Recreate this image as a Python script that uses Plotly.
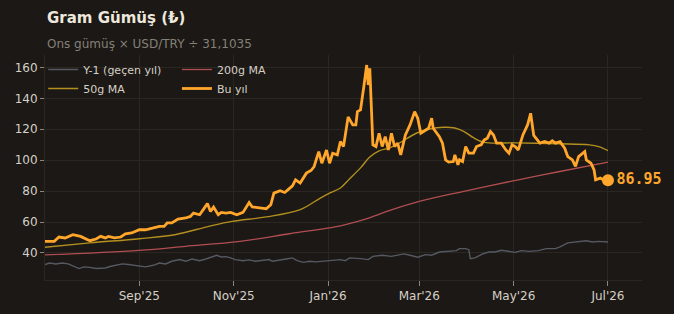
import plotly.graph_objects as go

# ---- Data ----
bu_yil_dates = [
    "2025-07-02", "2025-07-08", "2025-07-11", "2025-07-15", "2025-07-20", "2025-07-25", "2025-07-31",
    "2025-08-04", "2025-08-07", "2025-08-10", "2025-08-12", "2025-08-16", "2025-08-20", "2025-08-23",
    "2025-08-27", "2025-09-01", "2025-09-05", "2025-09-11", "2025-09-14", "2025-09-17", "2025-09-19",
    "2025-09-22", "2025-09-26", "2025-10-01", "2025-10-04", "2025-10-06", "2025-10-10", "2025-10-13",
    "2025-10-15", "2025-10-17", "2025-10-19", "2025-10-22", "2025-10-24", "2025-10-27", "2025-10-30",
    "2025-11-03", "2025-11-07", "2025-11-11", "2025-11-13", "2025-11-19", "2025-11-22", "2025-11-25",
    "2025-11-27", "2025-12-01", "2025-12-04", "2025-12-06", "2025-12-09", "2025-12-11", "2025-12-14",
    "2025-12-18", "2025-12-21", "2025-12-23", "2025-12-26", "2025-12-28", "2025-12-31", "2026-01-02",
    "2026-01-04", "2026-01-07", "2026-01-09", "2026-01-11", "2026-01-14", "2026-01-17", "2026-01-19",
    "2026-01-20", "2026-01-22", "2026-01-24", "2026-01-26", "2026-01-27", "2026-01-28", "2026-01-30",
    "2026-02-01", "2026-02-03", "2026-02-05", "2026-02-07", "2026-02-09", "2026-02-11", "2026-02-13",
    "2026-02-15", "2026-02-17", "2026-02-20", "2026-02-23", "2026-02-26", "2026-02-28", "2026-03-02",
    "2026-03-05", "2026-03-07", "2026-03-09", "2026-03-10", "2026-03-14", "2026-03-16", "2026-03-18",
    "2026-03-20", "2026-03-23", "2026-03-24", "2026-03-26", "2026-03-27", "2026-03-29", "2026-03-31",
    "2026-04-02", "2026-04-05", "2026-04-07", "2026-04-10", "2026-04-12", "2026-04-14", "2026-04-16",
    "2026-04-18", "2026-04-20", "2026-04-23", "2026-04-26", "2026-04-28", "2026-04-30", "2026-05-02",
    "2026-05-04", "2026-05-07", "2026-05-10", "2026-05-12", "2026-05-14", "2026-05-16", "2026-05-18",
    "2026-05-21", "2026-05-24", "2026-05-26", "2026-05-28", "2026-05-31", "2026-06-03", "2026-06-05",
    "2026-06-08", "2026-06-10", "2026-06-12", "2026-06-16", "2026-06-17", "2026-06-20", "2026-06-22",
    "2026-06-23", "2026-06-26", "2026-06-28", "2026-07-01",
]
bu_yil_values = [
    47.5, 47.5, 50.3, 49.7, 51.8, 50.7, 47.9,
    49.0, 50.7, 49.7, 50.7, 49.7, 50.3, 52.3,
    52.9, 55.0, 55.0, 56.5, 57.2, 57.2, 59.4,
    59.4, 61.9, 62.6, 63.6, 65.8, 64.7, 69.0,
    72.0, 66.8, 69.7, 64.7, 66.2, 65.8, 66.2,
    64.7, 66.2, 72.6, 69.7, 69.0, 68.6, 71.2,
    78.7, 80.2, 79.1, 80.8, 83.4, 87.3, 85.2,
    91.6, 93.3, 95.9, 105.5, 98.0, 106.6, 98.0,
    104.5, 103.4, 112.0, 108.8, 128.0, 122.8, 122.8,
    131.4, 132.5, 146.5, 161.5, 148.6, 159.4, 109.9,
    108.8, 117.4, 108.8, 115.2, 106.6, 117.4, 108.8,
    111.0, 103.4, 116.3, 122.8, 131.4, 127.1, 117.4,
    119.5, 120.6, 127.1, 120.6, 115.2, 111.0, 100.2,
    98.7, 99.1, 103.4, 97.0, 100.2, 99.1, 108.8,
    104.5, 104.5, 108.8, 109.9, 113.1, 114.2, 118.5,
    116.3, 111.0, 111.0, 106.6, 104.5, 109.9, 108.8,
    106.6, 116.3, 122.8, 130.3, 116.0, 113.1, 111.0,
    112.0, 111.0, 112.6, 111.0, 112.0, 107.7, 102.3,
    100.2, 96.0, 102.3, 105.5, 100.2, 98.0, 93.7,
    87.3, 88.4, 87.3, 86.95,
]

ma50_dates = [
    "2025-07-02", "2025-07-31", "2025-09-01", "2025-09-24", "2025-10-16", "2025-10-31", "2025-11-22",
    "2025-12-14", "2025-12-27", "2026-01-02", "2026-01-09", "2026-01-15", "2026-01-22", "2026-01-28",
    "2026-02-03", "2026-02-10", "2026-02-16", "2026-02-27", "2026-03-07", "2026-03-17", "2026-03-24",
    "2026-03-30", "2026-04-05", "2026-04-12", "2026-05-02", "2026-05-30", "2026-06-19", "2026-06-25",
    "2026-07-01",
]
ma50_values = [
    43.7, 46.5, 49.2, 51.8, 57.2, 60.4, 63.3,
    68.0, 75.5, 78.7, 82.0, 88.0, 95.0, 102.0,
    106.0, 108.0, 111.0, 117.4, 120.0, 121.3, 120.8,
    118.5, 114.5, 111.5, 111.2, 110.6, 109.9, 108.8,
    106.2,
]

ma200_dates = [
    "2025-07-02", "2025-09-01", "2025-10-01", "2025-11-05", "2025-12-07", "2026-01-09", "2026-01-24",
    "2026-02-10", "2026-03-01", "2026-03-29", "2026-05-04", "2026-05-30", "2026-07-01",
]
ma200_values = [
    38.7, 41.7, 44.3, 47.5, 52.4, 57.5, 61.5,
    67.5, 73.3, 79.7, 87.3, 92.5, 98.7,
]

y1_dates = [
    "2025-07-02", "2025-07-05", "2025-07-09", "2025-07-13", "2025-07-17", "2025-07-20", "2025-07-24",
    "2025-07-27", "2025-07-31", "2025-08-04", "2025-08-07", "2025-08-10", "2025-08-13", "2025-08-16",
    "2025-08-21", "2025-08-25", "2025-08-30", "2025-09-02", "2025-09-05", "2025-09-10", "2025-09-14",
    "2025-09-18", "2025-09-22", "2025-09-27", "2025-10-01", "2025-10-05", "2025-10-10", "2025-10-14",
    "2025-10-17", "2025-10-21", "2025-10-24", "2025-10-27", "2025-10-30", "2025-11-02", "2025-11-07",
    "2025-11-11", "2025-11-15", "2025-11-20", "2025-11-24", "2025-11-26", "2025-12-01", "2025-12-05",
    "2025-12-09", "2025-12-12", "2025-12-16", "2025-12-20", "2025-12-24", "2025-12-29", "2026-01-02",
    "2026-01-09", "2026-01-12", "2026-01-15", "2026-01-22", "2026-01-27", "2026-01-30", "2026-02-05",
    "2026-02-11", "2026-02-19", "2026-02-23", "2026-02-28", "2026-03-05", "2026-03-09", "2026-03-14",
    "2026-03-20", "2026-03-25", "2026-03-27", "2026-03-31", "2026-04-02", "2026-04-03", "2026-04-06",
    "2026-04-11", "2026-04-15", "2026-04-19", "2026-04-23", "2026-04-28", "2026-05-02", "2026-05-06",
    "2026-05-11", "2026-05-17", "2026-05-22", "2026-05-28", "2026-05-31", "2026-06-05", "2026-06-10",
    "2026-06-17", "2026-06-21", "2026-06-25", "2026-07-01",
]
y1_values = [
    32.5, 33.5, 32.9, 33.5, 32.9, 31.4, 29.9,
    31.0, 30.7, 29.9, 30.3, 30.3, 31.2, 32.0,
    32.9, 32.5, 32.0, 31.4, 31.0, 32.0, 33.5,
    32.9, 34.6, 35.7, 34.6, 36.1, 35.0, 36.1,
    37.2, 38.5, 37.4, 37.6, 36.8, 35.7, 35.0,
    35.5, 34.6, 35.0, 35.7, 34.6, 35.7, 36.1,
    36.8, 35.0, 33.9, 34.6, 34.2, 34.6, 35.2,
    35.7, 35.0, 36.8, 36.3, 35.7, 37.8, 38.5,
    37.8, 39.4, 38.5, 37.2, 38.9, 38.5, 40.6,
    41.0, 41.5, 42.8, 42.8, 42.1, 36.3, 36.8,
    39.4, 40.6, 40.6, 41.7, 41.0, 40.4, 41.5,
    41.0, 41.5, 42.8, 42.8, 43.9, 46.5, 47.1,
    47.9, 47.1, 47.5, 47.1,
]

y_ticks = [40, 60, 80, 100, 120, 140, 160]
x_tick_dates = ["2025-09-01", "2025-11-01", "2026-01-01", "2026-03-01", "2026-05-01", "2026-07-01"]

title_text = "Gram Gümüş (₺)"
subtitle_text = "Ons gümüş × USD/TRY ÷ 31,1035"

# ---- Styles ----
BG = "#1b1815"
GRID = "#2a2622"
TXT = "#d6d0c6"
ORANGE = "#ffa62b"
GOLD = "#b38f1f"
RED = "#b24e52"
GREY = "#555961"
FONT = "DejaVu Sans"

fig = go.Figure()

fig.add_trace(go.Scatter(x=y1_dates, y=y1_values, mode="lines", name="Y-1 (geçen yıl)",
                         line=dict(color=GREY, width=1.4), legend="legend", hoverinfo="skip"))
fig.add_trace(go.Scatter(x=ma200_dates, y=ma200_values, mode="lines", name="200g MA",
                         line=dict(color=RED, width=1.3, shape="spline"), legend="legend2", hoverinfo="skip"))
fig.add_trace(go.Scatter(x=ma50_dates, y=ma50_values, mode="lines", name="50g MA",
                         line=dict(color=GOLD, width=1.4, shape="spline"), legend="legend", hoverinfo="skip"))
fig.add_trace(go.Scatter(x=bu_yil_dates, y=bu_yil_values, mode="lines", name="Bu yıl",
                         line=dict(color=ORANGE, width=2.8), legend="legend2", hoverinfo="skip"))
fig.add_trace(go.Scatter(x=[bu_yil_dates[-1]], y=[bu_yil_values[-1]], mode="markers+text",
                         marker=dict(color=ORANGE, size=12),
                         text=[f"{bu_yil_values[-1]:.2f}"], textposition="middle right",
                         textfont=dict(family="DejaVu Sans Mono", size=15, color=ORANGE, weight="bold"),
                         cliponaxis=False, showlegend=False, hoverinfo="skip"))

legend_common = dict(bgcolor="rgba(0,0,0,0)", font=dict(family=FONT, size=11, color=TXT),
                     yanchor="top", xanchor="left", traceorder="normal", tracegroupgap=0,
                     itemwidth=30)

fig.update_layout(
    width=674, height=314,
    margin=dict(l=45, r=32, t=55, b=34),
    paper_bgcolor=BG, plot_bgcolor=BG,
    font=dict(family=FONT, color=TXT, size=12),
    showlegend=True,
    legend=dict(x=-0.003, y=1.0, **legend_common),
    legend2=dict(x=0.221, y=1.0, **legend_common),
    xaxis=dict(
        type="date",
        range=["2025-07-02", "2026-07-23"],
        tickvals=x_tick_dates, tickformat="%b'%y",
        ticks="outside", ticklen=5, tickcolor="#8a857d", tickwidth=1,
        showgrid=True, gridcolor=GRID, gridwidth=1,
        showline=True, linecolor=GRID, linewidth=1,
        zeroline=False,
        tickfont=dict(family=FONT, size=12, color=TXT),
    ),
    yaxis=dict(
        range=[22.5, 168],
        tickvals=y_ticks,
        ticks="outside", ticklen=4, tickcolor="#8a857d", tickwidth=1,
        showgrid=True, gridcolor=GRID, gridwidth=1,
        showline=True, linecolor=GRID, linewidth=1,
        zeroline=False,
        tickfont=dict(family=FONT, size=12, color=TXT),
    ),
    annotations=[
        dict(text=f"<b>{title_text}</b>", xref="paper", yref="paper", x=0, y=1.164,
             xanchor="left", yanchor="middle", showarrow=False,
             font=dict(family=FONT, size=15, color="#ede7dc")),
        dict(text=subtitle_text, xref="paper", yref="paper", x=0, y=1.049,
             xanchor="left", yanchor="middle", showarrow=False,
             font=dict(family=FONT, size=12, color="#858078")),
    ],
)

fig.write_html("out.html")
